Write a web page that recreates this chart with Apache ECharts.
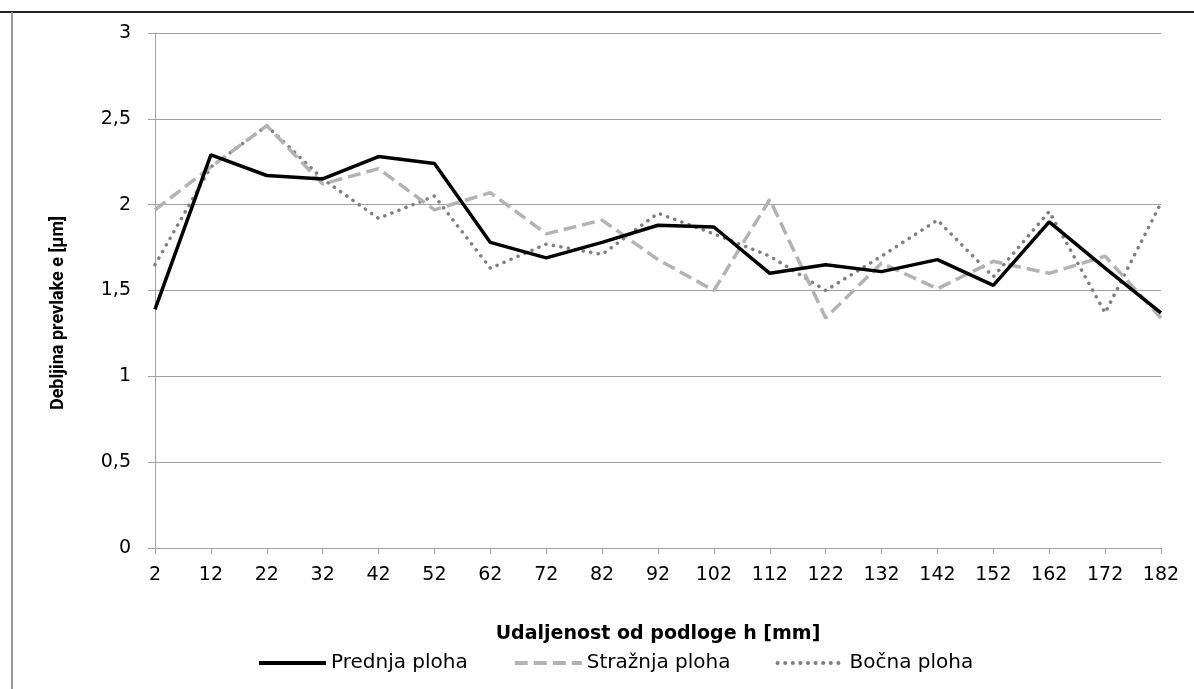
<!DOCTYPE html>
<html>
<head>
<meta charset="utf-8">
<script src="https://cdn.jsdelivr.net/npm/echarts@6/dist/echarts.min.js"></script>
<style>
  html, body { margin: 0; padding: 0; background: #fff; }
  #chart { width: 1194px; height: 689px; }
</style>
</head>
<body>
<div id="chart"></div>
<script>
// udaljenost od podloge h [mm]
const heights = ['2', '12', '22', '32', '42', '52', '62', '72', '82', '92', '102', '112', '122', '132', '142', '152', '162', '172', '182']
// debljina prevlake e [µm]
const prednja = [1.39, 2.29, 2.17, 2.15, 2.28, 2.24, 1.78, 1.69, 1.78, 1.88, 1.87, 1.60, 1.65, 1.61, 1.68, 1.53, 1.90, 1.63, 1.37]
const straznja = [1.97, 2.22, 2.46, 2.12, 2.21, 1.97, 2.07, 1.83, 1.91, 1.68, 1.50, 2.03, 1.34, 1.66, 1.51, 1.67, 1.60, 1.70, 1.34]
const bocna = [1.65, 2.22, 2.46, 2.15, 1.92, 2.05, 1.63, 1.77, 1.71, 1.95, 1.83, 1.70, 1.50, 1.70, 1.91, 1.58, 1.96, 1.37, 2.01]
const seriesNames = ['Prednja ploha', 'Stražnja ploha', 'Bočna ploha']

const font = 'DejaVu Sans'
const chart = echarts.init(document.getElementById('chart'))

chart.setOption({
  animation: false,
  backgroundColor: '#fff',
  grid: { left: 155, right: 33, top: 33, bottom: 141 },
  legend: {
    left: 252,
    top: 648,
    itemWidth: 67,
    itemHeight: 14,
    itemGap: 45,
    itemStyle: { opacity: 0 },
    lineStyle: { width: 4 },
    textStyle: { fontFamily: font, fontSize: 20, color: '#000' },
    data: seriesNames
  },
  xAxis: {
    type: 'category',
    data: heights,
    boundaryGap: false,
    name: 'Udaljenost od podloge h [mm]',
    nameLocation: 'middle',
    nameGap: 77,
    nameTextStyle: { fontFamily: font, fontSize: 19, fontWeight: 'bold', color: '#000' },
    axisLine: { lineStyle: { color: '#a0a0a0', width: 1 } },
    axisTick: { show: true, length: 6, lineStyle: { color: '#a0a0a0' } },
    axisLabel: { fontFamily: font, fontSize: 19, color: '#000', margin: 18 },
    splitLine: { show: false }
  },
  yAxis: {
    type: 'value',
    min: 0,
    max: 3,
    interval: 0.5,
    axisLine: { show: true, lineStyle: { color: '#a0a0a0', width: 1 } },
    axisTick: { show: true, length: 7, lineStyle: { color: '#a0a0a0' } },
    axisLabel: {
      fontFamily: font, fontSize: 19, color: '#000', margin: 24,
      formatter: v => String(v).replace('.', ',')
    },
    splitLine: { lineStyle: { color: '#a0a0a0', width: 1 } }
  },
  graphic: [
    { type: 'line', shape: { x1: 0, y1: 12, x2: 1194, y2: 12 }, style: { stroke: '#222', lineWidth: 2 } },
    { type: 'line', shape: { x1: 12, y1: 12, x2: 12, y2: 689 }, style: { stroke: '#999', lineWidth: 2 } },
    {
      type: 'text', x: 58, y: 313, rotation: Math.PI / 2,
      style: { text: 'Debljina prevlake e [µm]', fontFamily: 'Roboto', fontSize: 18, fontWeight: 'bold', fill: '#000', align: 'center', verticalAlign: 'middle' }
    }
  ],
  series: [
    {
      name: seriesNames[0], type: 'line', data: prednja, symbol: 'none', z: 4,
      lineStyle: { color: '#000', width: 3.5, type: 'solid' },
      itemStyle: { color: '#000' }
    },
    {
      name: seriesNames[1], type: 'line', data: straznja, symbol: 'none', z: 3,
      lineStyle: { color: '#b3b3b3', width: 3.5, type: [13, 6] },
      itemStyle: { color: '#b3b3b3' }
    },
    {
      name: seriesNames[2], type: 'line', data: bocna, symbol: 'none', z: 2,
      lineStyle: { color: '#7f7f7f', width: 3.5, type: [0.1, 7.5], cap: 'round' },
      itemStyle: { color: '#7f7f7f' }
    }
  ]
})
</script>
</body>
</html>
